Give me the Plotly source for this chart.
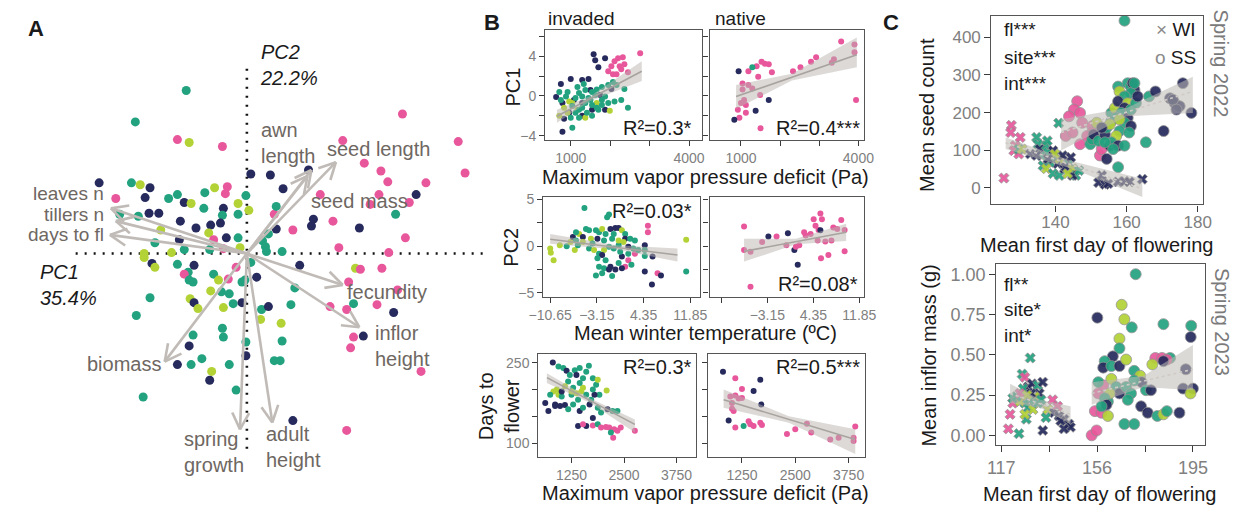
import math
import plotly.graph_objects as go

W, H = 1250, 512
FONT = "Liberation Sans, Arial, Helvetica, sans-serif"
COL = {"p": "#E8579B", "n": "#262A5C", "t": "#22A27F", "l": "#B3D236"}
FRAME = "#555555"
TICKC = "#808080"
ARROWC = "#C0BBB6"
LABELC = "#6E6762"
BANDC = "rgba(185,180,175,0.5)"
FITC = "#A8A39E"

# ---------------- Panel A: PCA biplot (group, PC1, PC2 ; biplot units) ----------------
a_points = [
    ("t", -6.2, 16.6), ("t", -11.4, 13.4), ("p", -7.1, 11.6), ("l", -5.9, 11.3), ("p", -2.5, 10.9),
    ("p", 15.9, 14.2), ("p", 9.8, 11.5), ("p", 21.6, 11.4), ("p", 22.3, 8.2), ("p", 12.0, 9.2),
    ("p", 13.7, 8.4), ("p", 14.4, 7.3), ("p", 18.3, 7.2), ("n", 6.3, 8.5), ("n", 0.4, 8.1),
    ("n", 2.4, 8.0), ("n", 3.7, 6.6), ("n", -15.1, 7.2), ("p", 7.5, 6.0), ("p", 13.5, 6.0),
    ("n", 17.3, 6.0), ("p", 16.6, 5.2), ("p", 12.6, 5.0), ("t", 15.2, 4.0), ("p", 8.8, 3.3),
    ("n", 11.5, 2.6), ("p", 16.2, 1.6), ("n", 6.8, 3.5), ("n", 6.6, 2.8), ("p", 4.7, 2.4),
    ("p", 9.4, 0.6), ("p", 14.5, 0.1), ("p", 2.8, 4.0), ("t", 3.0, 4.8), ("t", -11.8, 7.2),
    ("l", -10.9, 7.0), ("n", -9.9, 6.7), ("p", -13.4, 5.6), ("n", -10.4, 5.7), ("t", -8.0, 5.6),
    ("t", -7.1, 6.0), ("n", -6.4, 5.2), ("l", -5.7, 5.1), ("t", -4.3, 6.2), ("l", -3.3, 6.7),
    ("p", -2.0, 6.8), ("p", -2.2, 6.1), ("t", -4.4, 4.6), ("n", -2.4, 4.6), ("l", -0.9, 5.1),
    ("t", -0.1, 5.9), ("l", 0.2, 4.4), ("t", -2.5, 3.9), ("t", -0.9, 4.0), ("n", -2.7, 3.1),
    ("n", -3.7, 2.9), ("l", -3.9, 2.1), ("n", -5.2, 2.6), ("n", -6.8, 3.3), ("t", -11.1, 3.8),
    ("n", -10.0, 4.1), ("n", -9.0, 4.1), ("t", -13.0, 4.0), ("t", -9.4, 1.1), ("l", -8.8, 2.4),
    ("n", -6.9, 1.4), ("t", -6.4, 0.4), ("n", -2.1, 1.6), ("p", -3.4, 1.4), ("t", -0.9, 1.6),
    ("l", -0.7, 0.6), ("p", -2.4, 0.5), ("t", -3.8, 0.4), ("l", -7.7, 0.1), ("t", 1.6, 1.3),
    ("t", 1.9, 0.7), ("t", 2.2, 2.0), ("n", 3.0, 2.5), ("t", 2.0, 0.2), ("t", 3.6, 0.2),
    ("l", -10.5, 0.0), ("l", -10.5, -0.4), ("n", -9.7, -1.0), ("l", -9.4, -1.4), ("t", -7.1, -1.1),
    ("n", -5.4, -1.2), ("t", -6.0, -1.9), ("p", -6.4, -2.1), ("t", -5.5, -2.9), ("t", -5.9, -2.7),
    ("t", -3.4, -2.1), ("l", -2.9, -2.7), ("p", -1.9, -2.6), ("p", -1.1, -1.4), ("t", -0.5, -2.9),
    ("t", -0.2, -2.7), ("n", 1.0, -2.4), ("t", 0.4, -0.9), ("t", -9.9, -4.5), ("t", -11.3, -6.3),
    ("l", -5.8, -4.6), ("n", -5.4, -5.0), ("l", -5.0, -5.6), ("l", -3.7, -3.8), ("t", -2.6, -3.9),
    ("t", -1.8, -4.1), ("l", -2.4, -5.5), ("t", -1.4, -5.1), ("n", -0.5, -5.0), ("t", 1.5, -5.7),
    ("n", 2.2, -5.4), ("l", 1.4, -6.7), ("t", 4.5, -5.2), ("t", 4.9, -3.5), ("n", 5.4, -1.2),
    ("t", -2.5, -7.6), ("t", -2.4, -8.5), ("t", -5.5, -8.3), ("n", -5.9, -9.4), ("t", -0.1, -9.0),
    ("n", -0.1, -10.4), ("l", 3.5, -7.1), ("t", 3.6, -8.9), ("t", 2.8, -10.9), ("t", 3.4, -10.9),
    ("n", -7.1, -11.3), ("t", -5.7, -11.3), ("t", -4.6, -10.7), ("t", -1.8, -11.3), ("l", -3.6, -12.0),
    ("n", -3.8, -12.9), ("t", -1.1, -13.9), ("t", -10.6, -14.6), ("n", 4.7, -17.0), ("p", 10.2, -18.0),
    ("l", 11.1, -1.5), ("p", 11.6, -1.6), ("p", 13.8, -1.5), ("p", 10.4, -2.9), ("p", 15.4, -3.7),
    ("p", 8.5, -5.4), ("p", 10.2, -5.7), ("t", 10.9, -5.1), ("p", 13.3, -5.2), ("n", 15.0, -6.0),
    ("p", 10.9, -8.5), ("n", 11.9, -8.4), ("p", 10.6, -9.6), ("p", 17.8, -12.0),
]

# trait loadings (arrow tips, biplot units)
a_loadings = [
    ("leaves n", -13.9, 4.6), ("tillers n", -13.4, 3.3), ("days to fl", -14.0, 1.9),
    ("seed length", 9.1, 9.3), ("seed mass", 6.6, 8.5), ("awn length", 6.2, 7.9),
    ("fecundity", 9.8, -3.2), ("inflor height", 11.5, -7.5), ("biomass", -8.4, -11.0),
    ("spring growth", -0.7, -17.9), ("adult height", 2.6, -17.2),
]

# ---------------- Panel B data (group, x, y) ----------------
b1_invaded = [
    ("p", 2760, 4.3), ("p", 2320, 3.9), ("p", 2200, 3.8), ("p", 2110, 3.5), ("p", 2360, 3.2),
    ("p", 2240, 3.0), ("p", 2280, 2.7), ("p", 2450, 2.4), ("p", 2070, 2.2), ("p", 1950, 2.5),
    ("p", 2160, 2.2), ("p", 2030, 3.0),
    ("n", 1580, 4.2), ("n", 1870, 3.8), ("n", 1620, 3.6), ("n", 1700, 2.9), ("n", 1000, 1.7),
    ("n", 750, 1.2), ("n", 1290, 1.6), ("n", 1450, 1.7), ("n", 630, -0.1), ("n", 1500, 0.6),
    ("n", 1740, 0.1), ("n", 790, -0.7), ("n", 1080, -0.4), ("n", 1290, -0.7), ("n", 960, -1.7),
    ("n", 1540, -1.4), ("n", 1870, -1.4), ("n", 830, -2.3), ("n", 790, -3.6), ("n", 1290, -2.0),
    ("n", 2030, 0.7),
    ("l", 830, -1.2), ("l", 920, -1.7), ("l", 1040, -0.7), ("l", 710, -2.0), ("l", 1370, -2.2),
    ("l", 1990, -1.5), ("l", 1660, -0.7), ("l", 1170, -1.4), ("l", 960, -0.55),
    ("t", 2070, 1.4), ("t", 1950, 1.1), ("t", 2160, 1.1), ("t", 2360, 0.7), ("t", 1790, 0.9),
    ("t", 1660, 0.65), ("t", 1540, 0.4), ("t", 1370, 0.6), ("t", 1210, 0.3), ("t", 1120, -0.2),
    ("t", 1290, -0.05), ("t", 1450, -0.2), ("t", 1620, 0.1), ("t", 1790, -0.4), ("t", 1370, -0.7),
    ("t", 1540, -0.9), ("t", 1040, -1.0), ("t", 1210, -1.4), ("t", 1410, -1.7), ("t", 1700, -1.4),
    ("t", 1950, -0.7), ("t", 880, -0.05), ("t", 750, -0.4), ("t", 1000, -2.2), ("t", 1210, -2.2),
    ("t", 1540, -2.0), ("t", 1040, -3.2), ("t", 710, 0.4), ("t", 2280, -0.4), ("t", 2450, -1.2),
    ("t", 2110, -0.55), ("t", 1870, -0.05), ("t", 1170, 0.9), ("t", 1330, 1.2), ("t", 920, 0.4),
    ("t", 1660, -1.2), ("t", 1790, -0.9), ("t", 1290, -1.2), ("t", 1120, -1.7), ("t", 1500, -0.4),
]
b1_native = [
    ("p", 3560, 5.5), ("p", 3900, 5.2), ("p", 3900, 4.4), ("p", 3940, -0.4), ("p", 3375, 3.7),
    ("p", 3320, 3.35), ("p", 2920, 3.9), ("p", 2790, 3.45), ("p", 2520, 2.9), ("p", 2330, 2.5),
    ("p", 1790, 2.4), ("p", 1525, 3.45), ("p", 1610, 3.25), ("p", 1710, 3.2), ("p", 1400, 3.0),
    ("p", 1440, 1.95), ("p", 1190, 2.5), ("p", 1040, 1.25), ("p", 1190, 1.1), ("p", 1040, 0.65),
    ("p", 1290, 0.75), ("p", 1490, 0.1), ("p", 1080, -0.4), ("p", 1000, -0.7), ("p", 1125, -0.9),
    ("p", 920, -1.4), ("p", 1125, -1.7), ("p", 960, -2.2), ("p", 1500, -3.25),
    ("n", 940, 2.5), ("t", 1290, 2.9), ("n", 1710, -0.4), ("n", 1375, -1.5), ("n", 830, -2.4),
]
b2_invaded = [
    ("l", -10.65, -0.25), ("l", -10.55, -0.7), ("l", -10.1, -1.5), ("t", -8.0, 0.0), ("l", -7.4, 0.45),
    ("n", -7.0, 1.0), ("t", -6.5, 0.6), ("l", -6.7, -0.4), ("t", -6.2, 0.1), ("t", -5.15, 4.1),
    ("l", -6.0, 1.3), ("n", -5.4, 1.0), ("t", -4.9, 1.85), ("t", -4.4, 1.7), ("l", -4.1, 0.8),
    ("t", -3.85, 0.3), ("n", -3.06, 0.8), ("t", -3.3, 1.7), ("t", -2.8, 1.5), ("l", -2.3, 1.85),
    ("t", -1.5, 3.1), ("t", -1.2, 3.4), ("n", -0.97, 1.85), ("t", -1.75, 1.3), ("t", -0.44, 1.3),
    ("n", -0.18, 1.95), ("n", 0.35, 1.95), ("l", 0.87, 1.7), ("t", 1.4, 1.3), ("n", 1.4, 0.8),
    ("l", 1.13, 0.45), ("t", 0.35, 0.1), ("t", -0.44, -0.25), ("t", -1.2, -0.07), ("l", -2.0, -0.4),
    ("t", -2.8, -0.8), ("n", -2.3, -0.95), ("t", -3.06, -1.3), ("t", -1.75, -1.5), ("n", -0.97, -2.2),
    ("t", -2.0, -2.35), ("t", -2.8, -2.2), ("t", -2.3, -2.9), ("t", -3.3, -3.15), ("t", -0.7, -3.2),
    ("n", -1.2, -2.5), ("n", -0.18, -2.5), ("t", 0.35, -1.8), ("n", 0.87, -1.1), ("p", 1.4, -2.2),
    ("n", 0.87, -2.35), ("p", 1.9, -1.5), ("t", 2.4, -2.0), ("p", 2.96, -0.8), ("t", 2.7, -0.25),
    ("t", 3.5, -0.4), ("t", 2.96, 0.6), ("n", 1.9, -0.07), ("p", 5.05, 2.2), ("p", 5.05, 1.5),
    ("n", 4.55, 0.1), ("t", 4.55, -0.4), ("t", 4.55, -1.05), ("n", 5.8, -1.1), ("n", 4.55, -2.7),
    ("p", 6.6, -2.9), ("n", 7.15, -3.15), ("n", 5.7, -4.1), ("l", 11.2, 0.7), ("t", 11.2, -2.7),
    ("t", -6.5, 1.5), ("l", -5.4, 0.45), ("t", -4.4, -0.25), ("l", -3.6, -0.4), ("t", -0.7, 0.8),
    ("t", 0.6, -0.6), ("t", 1.9, -0.8), ("l", 0.35, 0.6), ("t", -2.0, 0.6), ("l", -9.1, 0.1),
    ("t", 2.2, 0.8),
]
b2_native = [
    ("p", -6.95, 2.1), ("p", -6.95, -0.4), ("p", -5.9, -0.6), ("p", -5.9, -4.35), ("p", -4.0, 0.45),
    ("n", -2.98, 1.05), ("p", -1.65, 1.05), ("n", 0.2, 1.4), ("p", -0.05, 0.1), ("n", 1.25, -0.4),
    ("p", 1.5, -0.07), ("p", 2.05, 0.1), ("n", 1.8, -2.0), ("p", 2.85, 1.5), ("p", 3.1, 1.15),
    ("p", 4.4, 2.9), ("p", 4.7, 2.2), ("p", 5.5, 3.5), ("p", 5.75, 2.9), ("p", 5.2, 1.75),
    ("n", 5.5, 1.7), ("p", 5.05, 0.6), ("p", 5.6, -1.3), ("p", 6.8, -0.95), ("p", 6.3, 0.5),
    ("p", 7.6, 2.0), ("p", 8.25, 1.85), ("p", 8.9, 2.8), ("p", 9.45, 1.75), ("p", 9.45, -0.55),
    ("p", 3.9, 1.3), ("p", 7.3, 0.6),
]
b3_invaded = [
    ("n", 805, 250), ("t", 1664, 244), ("n", 625, 175), ("n", 700, 160), ("n", 860, 172),
    ("t", 940, 243), ("t", 1055, 240), ("n", 1133, 235), ("t", 1210, 227), ("t", 1170, 215),
    ("l", 1094, 206), ("l", 900, 200), ("l", 820, 196), ("l", 940, 190), ("t", 1016, 187),
    ("n", 860, 169), ("n", 977, 169), ("n", 1094, 171), ("t", 1289, 172), ("t", 1406, 181),
    ("l", 1484, 196), ("l", 1523, 203), ("t", 1445, 212), ("t", 1523, 221), ("t", 1601, 233),
    ("t", 1328, 236), ("t", 1445, 240), ("n", 1367, 227), ("t", 1758, 221), ("t", 1836, 209),
    ("l", 1875, 218), ("l", 2086, 198), ("t", 1914, 190), ("n", 1797, 190), ("t", 1719, 181),
    ("n", 1680, 172), ("t", 1875, 166), ("n", 2109, 163), ("t", 2227, 160), ("t", 2344, 160),
    ("t", 1953, 157), ("n", 1758, 147), ("n", 1406, 132), ("n", 1601, 132), ("p", 1523, 135),
    ("p", 1758, 133), ("t", 1875, 135), ("p", 1953, 129), ("p", 2070, 130), ("p", 2148, 129),
    ("p", 2266, 126), ("p", 2242, 110), ("p", 2344, 123), ("p", 2422, 129), ("t", 2188, 120),
    ("p", 2758, 123), ("t", 1289, 203), ("t", 1250, 190), ("l", 1250, 196), ("n", 1445, 160),
    ("t", 1523, 166), ("t", 1172, 163), ("n", 1016, 196), ("t", 742, 190), ("t", 1758, 200),
    ("t", 1601, 190), ("l", 1367, 193),
]
b3_native = [
    ("n", 805, 233), ("p", 1094, 221), ("p", 1250, 201), ("n", 1523, 197), ("n", 1680, 218),
    ("p", 1094, 189), ("p", 977, 187), ("p", 1172, 183), ("p", 1250, 184), ("p", 1016, 175),
    ("p", 1055, 160), ("p", 1016, 164), ("n", 938, 142), ("p", 1094, 129), ("t", 1289, 132),
    ("p", 1406, 141), ("p", 1445, 135), ("p", 1523, 132), ("p", 1680, 138), ("p", 1719, 134),
    ("n", 1703, 172), ("p", 2305, 117), ("p", 2500, 126), ("p", 2773, 136), ("p", 2875, 120),
    ("p", 3320, 107), ("p", 3516, 110), ("p", 3867, 110), ("p", 3867, 104), ("p", 3906, 131),
]

# fitted lines with confidence bands: (x, fit, lower, upper)
b1_invaded_fit = [(650, -2.05, -2.7, -1.4), (1500, -0.25, -0.5, 0.0), (2800, 2.5, 1.5, 3.5)]
b1_native_fit = [(875, -0.05, -1.3, 1.1), (2300, 1.89, 1.55, 2.25), (3960, 4.15, 2.9, 5.9)]
b2_invaded_fit = [(-10.65, 0.75, 0.25, 1.3), (0.0, -0.13, -0.35, 0.1), (9.8, -0.95, -1.65, -0.25)]
b2_native_fit = [(-6.95, -0.55, -1.65, 0.8), (1.5, 0.49, 0.2, 0.8), (9.7, 1.5, 0.55, 2.4)]
b3_invaded_fit = [(664, 222, 212, 230), (1700, 179, 175, 183), (2758, 135, 120, 144)]
b3_native_fit = [(820, 181, 166, 200), (2350, 144, 138, 150), (3906, 107, 80, 126)]

# ---------------- Panel C data (group, mean first day of flowering, value) ----------------
c22_wi = [
    ("p", 125.5, 26), ("p", 127.6, 166), ("p", 127.4, 147), ("p", 130.1, 134), ("p", 128.7, 112),
    ("p", 128.3, 99), ("p", 129.7, 90), ("t", 129.7, 103), ("l", 130.6, 103), ("n", 132.9, 90),
    ("t", 134.7, 134), ("t", 135.1, 116), ("n", 135.6, 103), ("t", 136.1, 86), ("t", 137.4, 112),
    ("t", 137.9, 94), ("n", 139.3, 99), ("t", 139.7, 77), ("n", 140.6, 64), ("l", 141.1, 77),
    ("t", 138.4, 68), ("t", 136.5, 59), ("l", 137.4, 51), ("t", 139.3, 38), ("t", 141.1, 33),
    ("n", 142.0, 86), ("n", 142.5, 51), ("t", 143.8, 64), ("n", 142.9, 55), ("l", 144.8, 51),
    ("t", 145.7, 33), ("n", 144.8, 33), ("l", 143.4, 38), ("t", 140.9, 172), ("n", 144.3, 81),
    ("l", 139.8, 90), ("t", 146.6, 46), ("n", 134.7, 86), ("t", 137.7, 125), ("n", 137.9, 77),
    ("n", 152.1, 14), ("n", 153.0, 33), ("n", 153.9, 9), ("n", 154.8, 11), ("n", 157.6, 16),
    ("n", 159.4, 17), ("n", 160.8, 16), ("n", 164.4, 23),
]
c22_ss = [
    ("p", 146.1, 230), ("p", 145.2, 208), ("p", 143.8, 190), ("p", 146.9, 199), ("p", 147.5, 173),
    ("p", 146.9, 116), ("p", 150.3, 164), ("p", 150.3, 147), ("p", 152.5, 86), ("p", 153.0, 103),
    ("p", 142.9, 138), ("p", 144.8, 147), ("p", 148.9, 138), ("t", 159.4, 444), ("t", 149.8, 116),
    ("t", 150.3, 129), ("n", 150.7, 142), ("t", 152.1, 125), ("n", 153.9, 142), ("t", 154.4, 160),
    ("t", 155.7, 177), ("n", 155.3, 112), ("n", 154.4, 77), ("t", 155.7, 199), ("l", 156.7, 212),
    ("t", 157.6, 269), ("l", 158.0, 256), ("t", 160.3, 278), ("t", 161.2, 269), ("n", 162.2, 260),
    ("n", 161.7, 278), ("t", 161.2, 252), ("t", 159.4, 243), ("n", 157.6, 230), ("l", 160.3, 225),
    ("n", 159.4, 212), ("t", 158.5, 199), ("n", 160.3, 186), ("t", 157.1, 186), ("t", 159.4, 173),
    ("n", 161.2, 164), ("t", 158.0, 151), ("t", 160.7, 147), ("l", 157.1, 138), ("t", 155.7, 121),
    ("n", 157.6, 112), ("t", 159.4, 112), ("t", 157.6, 55), ("t", 161.2, 208), ("t", 162.6, 225),
    ("n", 163.1, 243), ("t", 162.2, 278), ("t", 165.4, 121), ("t", 166.3, 243), ("n", 168.1, 256),
    ("n", 170.4, 151), ("n", 172.2, 238), ("n", 173.5, 225), ("n", 174.9, 217), ("n", 173.0, 234),
    ("n", 175.8, 278), ("n", 178.2, 199), ("n", 174.0, 208), ("l", 155.3, 169), ("l", 151.6, 173),
    ("n", 153.0, 160), ("t", 153.9, 121), ("l", 158.0, 182), ("t", 156.2, 103),
]
c23_wi = [
    ("p", 119.9, 0.04), ("t", 124.2, 0.01), ("p", 120.6, 0.13), ("p", 121.7, 0.20), ("t", 121.7, 0.23),
    ("t", 125.5, 0.38), ("t", 128.8, 0.48), ("p", 126.6, 0.36), ("n", 127.9, 0.30), ("t", 125.9, 0.29),
    ("n", 129.6, 0.32), ("t", 131.9, 0.31), ("n", 132.5, 0.26), ("l", 130.6, 0.24), ("t", 128.6, 0.22),
    ("t", 126.6, 0.20), ("l", 124.6, 0.21), ("t", 123.2, 0.24), ("p", 124.6, 0.26), ("t", 127.9, 0.17),
    ("l", 129.9, 0.16), ("t", 131.9, 0.20), ("n", 133.9, 0.33), ("t", 133.2, 0.22), ("p", 137.9, 0.22),
    ("l", 135.9, 0.16), ("t", 127.2, 0.10), ("l", 126.6, 0.13), ("n", 133.9, 0.03), ("p", 139.9, 0.18),
    ("n", 138.5, 0.14), ("n", 140.5, 0.12), ("n", 142.5, 0.10), ("n", 144.5, 0.07), ("n", 145.2, 0.05),
    ("n", 142.5, 0.04), ("n", 141.2, 0.09), ("t", 135.2, 0.11), ("n", 129.2, 0.26), ("l", 127.5, 0.25),
]
c23_ss = [
    ("p", 153.8, 0.00), ("p", 155.8, 0.03), ("p", 155.1, 0.15), ("p", 157.8, 0.14), ("p", 156.5, 0.26),
    ("p", 158.5, 0.31), ("p", 179.7, 0.48), ("p", 182.4, 0.48), ("t", 171.7, 1.00), ("n", 156.1, 0.73),
    ("l", 166.0, 0.81), ("l", 167.1, 0.72), ("t", 170.1, 0.67), ("l", 165.1, 0.60), ("t", 165.1, 0.54),
    ("t", 183.0, 0.69), ("t", 194.3, 0.68), ("n", 194.1, 0.61), ("l", 178.5, 0.44), ("n", 162.4, 0.49),
    ("t", 159.1, 0.46), ("n", 158.5, 0.42), ("t", 161.8, 0.43), ("n", 165.1, 0.43), ("l", 167.8, 0.47),
    ("t", 171.1, 0.40), ("l", 173.5, 0.37), ("n", 174.1, 0.33), ("t", 171.1, 0.34), ("n", 192.1, 0.41),
    ("t", 185.7, 0.48), ("p", 184.4, 0.47), ("n", 183.0, 0.46), ("t", 156.5, 0.33), ("l", 161.8, 0.35),
    ("t", 163.8, 0.30), ("n", 165.1, 0.26), ("t", 167.8, 0.30), ("t", 169.8, 0.26), ("t", 168.5, 0.22),
    ("n", 173.9, 0.18), ("n", 176.6, 0.14), ("t", 175.9, 0.28), ("n", 177.9, 0.28), ("t", 180.5, 0.12),
    ("l", 183.0, 0.13), ("t", 184.4, 0.15), ("n", 189.5, 0.14), ("n", 191.0, 0.29), ("n", 195.0, 0.29),
    ("l", 194.0, 0.26), ("t", 167.1, 0.07), ("t", 171.1, 0.07), ("t", 160.4, 0.21), ("l", 161.1, 0.26),
    ("t", 159.1, 0.23), ("n", 159.8, 0.19), ("l", 160.4, 0.12), ("t", 157.8, 0.18),
]
c22_wi_fit = [(126.0, 120, 103, 134), (145.0, 60, 50, 70), (164.4, -2, -24, 24)]
c22_ss_fit = [(141.6, 147, 99, 182), (160.0, 201, 190, 212), (178.6, 256, 199, 295)]
c23_wi_fit = [(120.6, 0.26, 0.20, 0.32), (133.0, 0.195, 0.17, 0.22), (145.2, 0.13, 0.07, 0.18)]
c23_ss_fit = [(153.8, 0.26, 0.19, 0.33), (175.0, 0.337, 0.30, 0.37), (195.0, 0.41, 0.28, 0.56)]

# tick definitions
b1_yticks = [-4, -2, 0, 2, 4, 6]
b1_ytext = ["\u22124", "", "0", "", "4", ""]
b1_xticks = [1000, 2000, 3000, 4000]
b1_xtext = ["1000", "", "", "4000"]
b2_yticks = [-5, -2.5, 0, 2.5, 5]
b2_ytext = ["\u22125", "", "0", "", "5"]
b2_xticks = [-10.65, -3.15, 4.35, 11.85]
b2_xtext_left = ["\u221210.65", "\u22123.15", "4.35", "11.85"]
b2_xtext_right = ["", "\u22123.15", "4.35", "11.85"]
b3_yticks = [100, 150, 200, 250]
b3_ytext = ["100", "", "", "250"]
b3_xticks = [1250, 2500, 3750]
c22_xticks = [140, 160, 180]
c22_yticks = [0, 100, 200, 300, 400]
c23_xticks = [117, 136.5, 156, 175.5, 195]
c23_xtext = ["117", "", "156", "", "195"]
c23_yticks = [0, 0.25, 0.5, 0.75, 1.0]
c23_ytext = ["0.00", "0.25", "0.50", "0.75", "1.00"]

# =====================================================================
fig = go.Figure()


def px_x(p):
    return p / W


def px_y(p):
    return 1 - p / H


def add_points(rows, xa, ya, size, symbol="circle", outline=None, opacity=1.0):
    fig.add_trace(go.Scatter(
        x=[r[1] for r in rows], y=[r[2] for r in rows], mode="markers",
        xaxis=xa, yaxis=ya, hoverinfo="skip",
        marker=dict(size=size, symbol=symbol, color=[COL[r[0]] for r in rows],
                    line=dict(width=0.8 if outline else 0, color=outline or "rgba(0,0,0,0)"),
                    opacity=opacity),
    ))


def add_fit(rows, xa, ya, dash="solid", linecolor=FITC, band=BANDC):
    xs = [r[0] for r in rows]
    fig.add_trace(go.Scatter(
        x=xs + xs[::-1], y=[r[3] for r in rows] + [r[2] for r in rows][::-1],
        fill="toself", fillcolor=band, line=dict(width=0), mode="lines",
        xaxis=xa, yaxis=ya, hoverinfo="skip"))
    fig.add_trace(go.Scatter(
        x=[xs[0], xs[-1]], y=[rows[0][1], rows[-1][1]], mode="lines",
        line=dict(color=linecolor, width=1.6, dash=dash), xaxis=xa, yaxis=ya, hoverinfo="skip"))


# ---- Panel A ----
add_points(a_points, "x", "y", 9)
ax_, ay_ = [], []
HEAD, ANG = 1.9, math.radians(27)
for name, tx, ty in a_loadings:
    L = math.hypot(tx, ty)
    ux, uy = -tx / L, -ty / L
    ax_ += [0, tx, None]
    ay_ += [0, ty, None]
    for s in (1, -1):
        c, sn = math.cos(s * ANG), math.sin(s * ANG)
        hx, hy = ux * c - uy * sn, ux * sn + uy * c
        ax_ += [tx + HEAD * hx, tx, None]
        ay_ += [ty + HEAD * hy, ty, None]
fig.add_trace(go.Scatter(x=ax_, y=ay_, mode="lines", xaxis="x", yaxis="y",
                         line=dict(color=ARROWC, width=2.6), hoverinfo="skip"))

# ---- Panel B ----
add_points(b1_invaded, "x2", "y2", 6)
add_fit(b1_invaded_fit, "x2", "y2")
add_points(b1_native, "x3", "y3", 6)
add_fit(b1_native_fit, "x3", "y3")
add_points(b2_invaded, "x4", "y4", 6)
add_fit(b2_invaded_fit, "x4", "y4")
add_points(b2_native, "x5", "y5", 6)
add_fit(b2_native_fit, "x5", "y5")
add_points(b3_invaded, "x6", "y6", 6)
add_fit(b3_invaded_fit, "x6", "y6")
add_points(b3_native, "x7", "y7", 6)
add_fit(b3_native_fit, "x7", "y7")

# ---- Panel C ----
CBAND = "rgba(190,185,180,0.55)"
add_points(c22_ss, "x8", "y8", 11, "circle", "#8F8F8F", 0.92)
add_points(c22_wi, "x8", "y8", 9, "x", "#8F8F8F", 0.92)
add_fit(c22_wi_fit, "x8", "y8", "dot", "#CFCAC5", CBAND)
add_fit(c22_ss_fit, "x8", "y8", "dot", "#CFCAC5", CBAND)
add_points(c23_ss, "x9", "y9", 11, "circle", "#8F8F8F", 0.92)
add_points(c23_wi, "x9", "y9", 9, "x", "#8F8F8F", 0.92)
add_fit(c23_wi_fit, "x9", "y9", "dot", "#CFCAC5", CBAND)
add_fit(c23_ss_fit, "x9", "y9", "dot", "#CFCAC5", CBAND)


def box_axes(xdom, ydom, xr, yr, xt, xtt, yt, ytt, n, fs=14, tl=5, xstand=0):
    xa = dict(domain=[px_x(xdom[0]), px_x(xdom[1])], range=xr, tickvals=xt, ticktext=xtt,
              anchor="y%d" % n, showline=True, mirror=True, linecolor=FRAME, linewidth=1.4,
              ticks="outside", ticklen=tl, tickwidth=1.4, tickcolor="#3A3A3A",
              ticklabelstandoff=xstand,
              tickfont=dict(size=fs, color=TICKC, family=FONT), showgrid=False, zeroline=False)
    ya = dict(domain=[px_y(ydom[1]), px_y(ydom[0])], range=yr, tickvals=yt, ticktext=ytt,
              anchor="x%d" % n, showline=True, mirror=True, linecolor=FRAME, linewidth=1.4,
              ticks="outside", ticklen=tl, tickwidth=1.4, tickcolor="#3A3A3A",
              tickfont=dict(size=fs, color=TICKC, family=FONT), showgrid=False, zeroline=False)
    return xa, ya


axes = {}
blank = lambda v: [""] * len(v)
axes[2] = box_axes((542, 702), (25, 137), [355, 4323], [-4.4, 6.7], b1_xticks, b1_xtext, b1_yticks, b1_ytext, 2)
axes[3] = box_axes((710, 868), (25, 137), [200, 4150], [-4.4, 6.7], b1_xticks, b1_xtext, b1_yticks, blank(b1_yticks), 3)
axes[4] = box_axes((540, 700), (195, 297), [-11.75, 13.4], [-5.42, 5.32], b2_xticks, b2_xtext_left, b2_yticks, b2_ytext, 4)
axes[5] = box_axes((710, 868), (195, 297), [-12.56, 12.65], [-5.42, 5.32], b2_xticks, b2_xtext_right, b2_yticks, blank(b2_yticks), 5)
axes[6] = box_axes((535, 696), (355, 460), [463, 4213], [74.4, 266.5], b3_xticks, [str(v) for v in b3_xticks], b3_yticks, b3_ytext, 6)
axes[7] = box_axes((708, 869), (355, 460), [447, 4140], [74.4, 266.5], b3_xticks, [str(v) for v in b3_xticks], b3_yticks, blank(b3_yticks), 7)
axes[8] = box_axes((998, 1214), (11, 203), [122, 181.4], [-44, 457], c22_xticks, [str(v) for v in c22_xticks], c22_yticks, [str(v) for v in c22_yticks], 8, fs=17, tl=6, xstand=-4)
axes[9] = box_axes((1003, 1216), (264, 448), [115, 199.8], [-0.061, 1.061], c23_xticks, c23_xtext, c23_yticks, c23_ytext, 9, fs=18, tl=6)

layout_axes = dict(
    xaxis=dict(domain=[0, px_x(480)], range=[-23.7, 24.3], visible=False, anchor="y"),
    yaxis=dict(domain=[px_y(500), px_y(20)], range=[-24.7, 23.3], visible=False, anchor="x"),
)
for n, (xa, ya) in axes.items():
    layout_axes["xaxis%d" % n] = xa
    layout_axes["yaxis%d" % n] = ya

annotations = []


def ann(text, x, y, size=20, color="#1A1A1A", xanchor="center", angle=0, align="center"):
    annotations.append(dict(text=text, x=px_x(x), y=px_y(y), xref="paper", yref="paper",
                            showarrow=False, xanchor=xanchor, yanchor="middle", textangle=angle,
                            align=align, font=dict(size=size, color=color, family=FONT)))


# Panel A text
ann("<b>A</b>", 21, 24, 22)
ann("<i>PC2</i><br><i>22.2%</i>", 248, 61, 20, xanchor="left", align="left")
ann("<i>PC1</i><br><i>35.4%</i>", 24, 285, 20, xanchor="left", align="left")
ann("awn<br>length", 249, 140, 20, LABELC, "left", align="left")
ann("seed length", 317, 147, 20, LABELC, "left")
ann("seed mass", 301, 200, 20, LABELC, "left")
ann("leaves n", 93, 192, 19, LABELC, "right")
ann("tillers n", 93, 213, 19, LABELC, "right")
ann("days to fl", 93, 234, 19, LABELC, "right")
ann("fecundity", 337, 292, 20, LABELC, "left")
ann("inflor<br>height", 366, 347, 20, LABELC, "left", align="left")
ann("biomass", 72, 365, 20, LABELC, "left")
ann("spring<br>growth", 171, 455, 20, LABELC, "left", align="left")
ann("adult<br>height", 254, 450, 20, LABELC, "left", align="left")

# Panel B text
ann("<b>B</b>", 488, 18, 22)
ann("invaded", 543, 14, 19, xanchor="left")
ann("native", 713, 14, 19, xanchor="left")
ann("Maximum vapor pressure deficit (Pa)", 706, 175, 20)
ann("Mean winter temperature (\u00baC)", 706, 334, 20)
ann("Maximum vapor pressure deficit (Pa)", 706, 497, 20)
ann("PC1", 509, 84, 20, angle=-90)
ann("PC2", 507, 247, 20, angle=-90)
ann("Days to<br>flower", 494, 408, 20, angle=-90)
ann("R\u00b2=0.3*", 694, 125, 20, xanchor="right")
ann("R\u00b2=0.4***", 866, 125, 20, xanchor="right")
ann("R\u00b2=0.03*", 694, 210, 20, xanchor="right")
ann("R\u00b2=0.08*", 864, 284, 20, xanchor="right")
ann("R\u00b2=0.3*", 694, 368, 20, xanchor="right")
ann("R\u00b2=0.5***", 866, 368, 20, xanchor="right")

# Panel C text
ann("<b>C</b>", 895, 18, 22)
ann("fl***", 1009, 25, 19, xanchor="left")
ann("site***", 1009, 53, 19, xanchor="left")
ann("int***", 1009, 80, 19, xanchor="left")
ann("<span style='color:#8A8A8A'>\u00d7</span> WI", 1209, 25, 19, xanchor="right")
ann("<span style='color:#8A8A8A'>o</span> SS", 1209, 53, 19, xanchor="right")
ann("fl**", 1009, 284, 19, xanchor="left")
ann("site*", 1009, 310, 19, xanchor="left")
ann("int*", 1009, 336, 19, xanchor="left")
ann("Mean seed count", 932, 112, 20, angle=-90)
ann("Mean inflor mass (g)", 934, 357, 20, angle=-90)
ann("Mean first day of flowering", 1105, 244, 20)
ann("Mean first day of flowering", 1108, 498, 20)
ann("Spring 2022", 1233, 60, 20, "#7A7A7A", angle=90)
ann("Spring 2023", 1233, 323, 20, "#7A7A7A", angle=90)

shapes = [
    dict(type="line", xref="x", yref="y", x0=-17.5, x1=24.3, y0=0, y1=0,
         line=dict(color="#111111", width=2.6, dash="2px,7px"), layer="below"),
    dict(type="line", xref="x", yref="y", x0=0, x1=0, y0=18.8, y1=-20.2,
         line=dict(color="#111111", width=2.6, dash="2px,7px"), layer="below"),
]

fig.update_layout(
    width=W, height=H, margin=dict(l=0, r=0, t=0, b=0),
    paper_bgcolor="white", plot_bgcolor="white", showlegend=False,
    font=dict(family=FONT, color="#1A1A1A"),
    annotations=annotations, shapes=shapes, **layout_axes,
)

fig.write_html("out.html")
